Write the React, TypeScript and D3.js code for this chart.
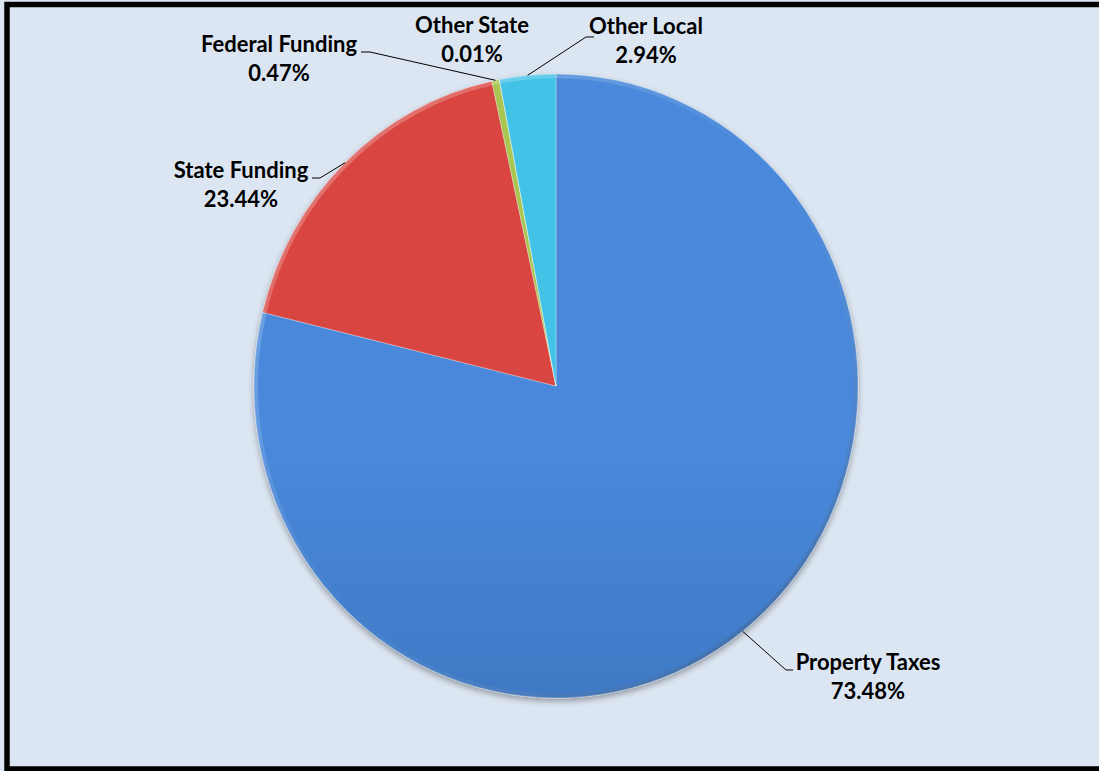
import React from "react";
import * as d3 from "d3";

const categories = ["Property Taxes", "State Funding", "Federal Funding", "Other State", "Other Local"];
// slice sizes as drawn (angles)
const sliceValues = [78.8, 17.8, 0.4, 0.01, 3.0];
const labelPercents = ["73.48%", "23.44%", "0.47%", "0.01%", "2.94%"];

const colorsTop = ["#4888da", "#d9443f", "#a9c652", "#9bbb59", "#43c2e6"];
const colorsBottom = ["#2f5f9f", "#a9352f", "#8fae44", "#8aa84c", "#2a9fc6"];

// label layout: text centre x, first baseline y, elbow points for leader
const labelLayout = [
  { x: 868, y: 670, elbow: [[786, 670], [793, 670]] },
  { x: 241, y: 178, elbow: [[320, 178], [312, 178]] },
  { x: 279, y: 52, elbow: [[370, 52], [361, 52]] },
  { x: 472, y: 33, elbow: null },
  { x: 646, y: 34, elbow: [[586, 37], [594, 37]] },
];

const W = 1099;
const H = 771;
const cx = 556;
const cy = 386;
const rx = 302;
const ry = 312;

export default function App() {
  const pie = d3.pie<number>().sort(null).value((d) => d)(sliceValues);
  const arc = d3.arc<d3.PieArcDatum<number>>().innerRadius(0).outerRadius(rx);
  const rim = d3.arc<d3.PieArcDatum<number>>().innerRadius(rx - 4).outerRadius(rx);
  const sy = ry / rx;
  const font = "Lato, 'Open Sans', sans-serif";

  return (
    <svg width={W} height={H} style={{ position: "absolute", left: 0, top: 0, overflow: "hidden" }}>
      <defs>
        {categories.map((c, i) => (
          <linearGradient key={c} id={`g${i}`} gradientUnits="userSpaceOnUse" x1={0} y1={cy - ry} x2={0} y2={cy + ry}>
            <stop offset="0" stopColor={colorsTop[i]} />
            <stop offset="1" stopColor={colorsBottom[i]} />
          </linearGradient>
        ))}
        <linearGradient id="rimg" gradientUnits="userSpaceOnUse" x1={-rx} y1={-rx} x2={rx} y2={rx}>
          <stop offset="0" stopColor="#fff" stopOpacity="0.35" />
          <stop offset="0.5" stopColor="#fff" stopOpacity="0" />
          <stop offset="1" stopColor="#000" stopOpacity="0.3" />
        </linearGradient>
        <filter id="sh" x="-10%" y="-10%" width="120%" height="120%">
          <feDropShadow dx="0" dy="3" stdDeviation="3" floodColor="#000" floodOpacity="0.35" />
        </filter>
      </defs>
      <rect x={0} y={0} width={W} height={H} fill="#dce6f2" />
      <path d={`M${W + 10},4.5 H7 V769 H${W + 10}`} fill="none" stroke="#000" strokeWidth={5.5} />
      <g filter="url(#sh)">
        <g transform={`translate(${cx},${cy}) scale(1,${sy})`}>
          {pie.map((p, i) => (
            <path
              key={categories[i]}
              d={arc(p) || ""}
              fill={`url(#g${i})`}
              stroke="rgba(255,255,255,0.3)"
              strokeWidth={1}
              vectorEffect="non-scaling-stroke"
            />
          ))}
          {pie.map((p, i) => (
            <path key={"r" + categories[i]} d={rim(p) || ""} fill="url(#rimg)" />
          ))}
        </g>
      </g>
      {pie.map((p, i) => {
        const lay = labelLayout[i];
        const mid = (p.startAngle + p.endAngle) / 2;
        const px = cx + rx * Math.sin(mid);
        const py = cy - ry * Math.cos(mid);
        return (
          <g key={"l" + categories[i]}>
            {lay.elbow && (
              <polyline
                points={`${px},${py} ${lay.elbow[0][0]},${lay.elbow[0][1]} ${lay.elbow[1][0]},${lay.elbow[1][1]}`}
                fill="none"
                stroke="#000"
                strokeWidth={1}
              />
            )}
            <text x={lay.x} y={lay.y} textAnchor="middle" fontFamily={font} fontWeight="bold" fontSize={22} fill="#000">
              {categories[i]}
            </text>
            <text x={lay.x} y={lay.y + 29} textAnchor="middle" fontFamily={font} fontWeight="bold" fontSize={22} fill="#000">
              {labelPercents[i]}
            </text>
          </g>
        );
      })}
    </svg>
  );
}
